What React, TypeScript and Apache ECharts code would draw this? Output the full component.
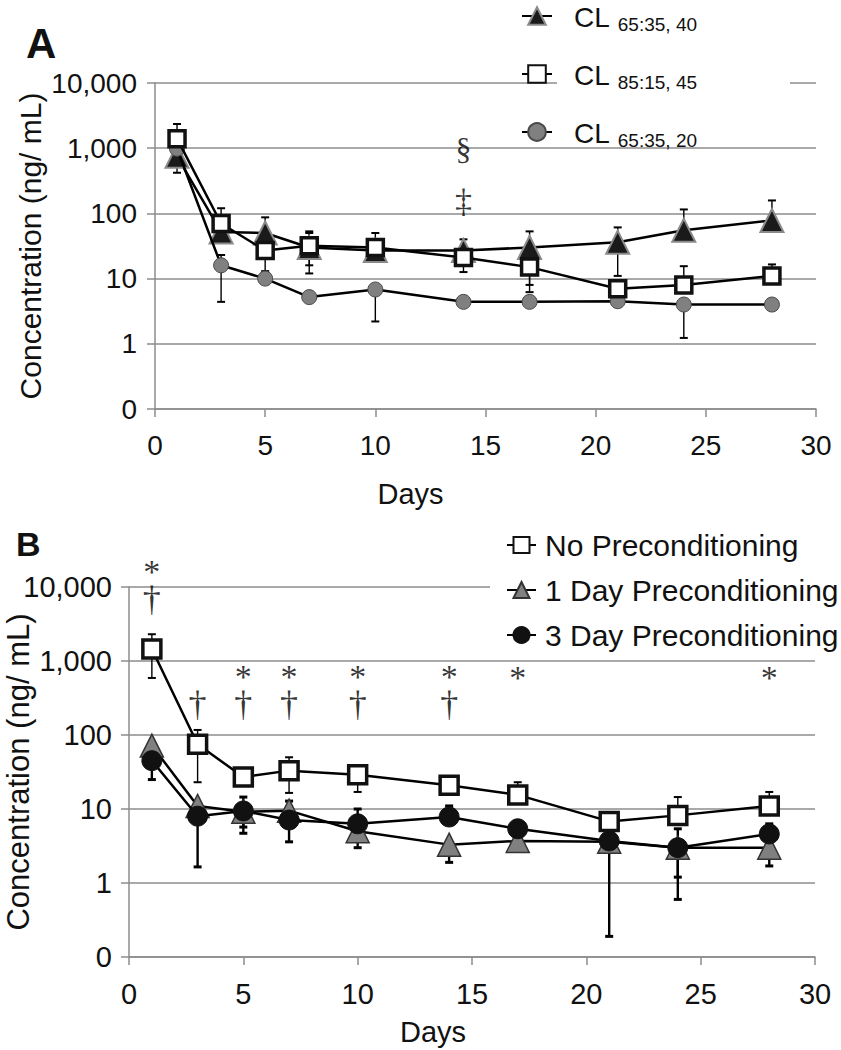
import React, { useEffect, useRef } from "react";
import * as echarts from "echarts";

const FONT = "'Liberation Sans', Arial, Helvetica, sans-serif";
const SERIF = "'Liberation Serif', 'Times New Roman', serif";

const days = [1, 3, 5, 7, 10, 14, 17, 21, 24, 28];

// ---- Panel A ----
const nameA1 = "CL 65:35, 40";
const nameA2 = "CL 85:15, 45";
const nameA3 = "CL 65:35, 20";
const a1Values = [750, 52, 50, 30, 27, 27, 30, 36, 55, 78];
const a1Hi = [null, null, 87, 50, null, 40, 53, 61, 115, 158];
const a1Lo = [420, null, null, 16, null, null, 8, 11, null, null];
const a2Values = [1400, 70, 27, 32, 30, 21, 15, 7, 8, 11];
const a2Hi = [2350, 120, null, 53, 50, null, null, null, 15.5, 16.5];
const a2Lo = [null, null, 13, 12, null, 12.6, 6.2, null, null, null];
const a3Values = [980, 16, 10, 5.2, 6.8, 4.4, 4.4, 4.5, 4.0, 4.0];
const a3Hi = [null, 23, null, null, null, null, null, null, null, null];
const a3Lo = [null, 4.4, null, null, 2.2, null, null, null, 1.23, null];
const annotA = [
  { day: 14, text: "§", y: 980 },
  { day: 14, text: "‡", y: 158 },
];

// ---- Panel B ----
const nameB1 = "No Preconditioning";
const nameB2 = "1 Day Preconditioning";
const nameB3 = "3 Day Preconditioning";
const b1Values = [1450, 75, 27, 33, 29, 21, 15.5, 6.8, 8.2, 11];
const b1Hi = [2300, 117, null, 50, 39, null, 23, null, 14.5, 17];
const b1Lo = [590, 23, null, 16.5, 17, null, null, null, null, null];
const b2Values = [72, 11, 9.2, 9.5, 5, 3.3, 3.7, 3.6, 3.0, 3.0];
const b2Hi = [null, null, 14.5, 12.8, null, null, null, null, null, null];
const b2Lo = [null, null, 5.7, null, 3.0, 1.9, null, null, 1.2, 1.7];
const b3Values = [45, 8, 9.4, 7.1, 6.3, 7.8, 5.4, 3.7, 3.0, 4.6];
const b3Hi = [null, null, null, null, 10, 11, null, null, 5.4, 6.3];
const b3Lo = [25, 1.65, 4.7, 3.6, null, null, null, 0.19, 0.6, null];
// significance marks: * vs 1 Day, † vs 3 Day (stacked where both apply)
const annotB = [
  { day: 1, text: "*\n†", y: 9700 },
  { day: 3, text: "†", y: 263 },
  { day: 5, text: "*\n†", y: 370 },
  { day: 7, text: "*\n†", y: 370 },
  { day: 10, text: "*\n†", y: 370 },
  { day: 14, text: "*\n†", y: 370 },
  { day: 17, text: "*", y: 600 },
  { day: 28, text: "*", y: 600 },
];

const xTicks = { min: 0, max: 30, interval: 5 };
const yRange = { min: 0.1, max: 10000 };

const MARK_STYLE: Record<string, string> = { "*": "s", "†": "d", "§": "sec", "‡": "dd" };

function pairs(vals: number[]) {
  return days.map((d, i) => [d, vals[i]]);
}

function errData(vals: number[], hi: (number | null)[], lo: (number | null)[]) {
  const out: number[][] = [];
  vals.forEach((v, i) => {
    if (hi[i] != null) out.push([days[i], v, hi[i] as number]);
    if (lo[i] != null) out.push([days[i], v, lo[i] as number]);
  });
  return out;
}

function errSeries(data: number[][], idx: number, width: number, capW: number) {
  return {
    type: "custom",
    xAxisIndex: idx,
    yAxisIndex: idx,
    z: 2,
    silent: true,
    encode: { x: 0, y: [1, 2] },
    data,
    renderItem: (_params: any, api: any) => {
      const p0 = api.coord([api.value(0), api.value(1)]);
      const p1 = api.coord([api.value(0), api.value(2)]);
      return {
        type: "group",
        children: [
          {
            type: "line",
            shape: { x1: p0[0], y1: p0[1], x2: p1[0], y2: p1[1] },
            style: { stroke: "#000", lineWidth: width },
          },
          {
            type: "line",
            shape: { x1: p1[0] - capW / 2, y1: p1[1], x2: p1[0] + capW / 2, y2: p1[1] },
            style: { stroke: "#000", lineWidth: width + 0.6 },
          },
        ],
      };
    },
  };
}

function annotSeries(list: { day: number; text: string; y: number }[], idx: number) {
  return {
    type: "scatter",
    xAxisIndex: idx,
    yAxisIndex: idx,
    symbolSize: 1,
    itemStyle: { color: "rgba(0,0,0,0)" },
    clip: false,
    silent: true,
    z: 6,
    label: {
      show: true,
      position: "inside",
      color: "#000",
      textBorderWidth: 0,
      textBorderColor: "transparent",
      formatter: (p: any) =>
        String(p.name)
          .split("\n")
          .map((t: string) => `{${MARK_STYLE[t] || "d"}|${t}}`)
          .join("\n"),
      rich: {
        s: { fontFamily: SERIF, fontSize: 34, lineHeight: 22, color: "#000" },
        d: { fontFamily: SERIF, fontSize: 36, lineHeight: 32, color: "#000" },
        sec: { fontFamily: SERIF, fontSize: 32, lineHeight: 30, color: "#000" },
        dd: { fontFamily: SERIF, fontSize: 34, lineHeight: 30, color: "#000" },
      },
    },
    data: list.map((a) => ({ name: a.text, value: [a.day, a.y] })),
  };
}

function lineSeries(name: string, vals: number[], idx: number, symbol: string, size: number, itemStyle: any, z: number) {
  return {
    type: "line",
    name,
    xAxisIndex: idx,
    yAxisIndex: idx,
    data: pairs(vals),
    symbol,
    symbolSize: size,
    showSymbol: true,
    lineStyle: { color: "#000", width: 2.5 },
    itemStyle,
    z,
    emphasis: { disabled: true },
  };
}

function xAxisCfg(idx: number, fontSize: number, margin: number, rightPad: number, nameGap: number) {
  return {
    type: "value",
    gridIndex: idx,
    ...xTicks,
    name: "Days",
    nameLocation: "middle",
    nameGap,
    nameMoveOverlap: false,
    nameTextStyle: { fontFamily: FONT, fontSize: 29, color: "#111", padding: [0, rightPad, 0, 0] },
    axisLine: { show: true, lineStyle: { color: "#8c8c8c", width: 1.5 } },
    axisTick: { show: true, length: 8, lineStyle: { color: "#8c8c8c", width: 1.5 } },
    axisLabel: { fontFamily: FONT, fontSize, color: "#111", margin },
    splitLine: { show: false },
  };
}

function yAxisCfg(idx: number, fontSize: number, margin: number, nameSize: number, nameGap: number) {
  return {
    type: "log",
    logBase: 10,
    gridIndex: idx,
    ...yRange,
    splitNumber: 5,
    name: "Concentration (ng/ mL)",
    nameLocation: "middle",
    nameGap,
    nameMoveOverlap: false,
    nameTextStyle: { fontFamily: FONT, fontSize: nameSize, color: "#111" },
    axisLine: { show: true, lineStyle: { color: "#8c8c8c", width: 1.5 } },
    axisTick: { show: true, length: 8, lineStyle: { color: "#8c8c8c", width: 1.5 } },
    axisLabel: {
      fontFamily: FONT,
      fontSize,
      color: "#111",
      margin,
      formatter: (v: number) => (v < 0.5 ? "0" : Math.round(v).toLocaleString("en-US")),
    },
    splitLine: { show: true, lineStyle: { color: "#8c8c8c", width: 1.5 } },
    minorTick: { show: false },
  };
}

export default function App() {
  const ref = useRef<HTMLDivElement>(null);
  useEffect(() => {
    if (!ref.current) return;
    const chart = echarts.init(ref.current, null, { renderer: "svg" });
    const option: any = {
      animation: false,
      backgroundColor: "#fff",
      title: [
        { text: "A", left: 21, top: 17, textStyle: { fontFamily: FONT, fontSize: 42, fontWeight: "bold", color: "#111" } },
        { text: "B", left: 11, top: 522, textStyle: { fontFamily: FONT, fontSize: 34, fontWeight: "bold", color: "#111" } },
      ],
      grid: [
        { left: 155, top: 83, width: 661, height: 326, containLabel: false, outerBoundsMode: "none" },
        { left: 129, top: 587, width: 686, height: 370, containLabel: false, outerBoundsMode: "none" },
      ],
      xAxis: [xAxisCfg(0, 28, 22, 150, 70), xAxisCfg(1, 29, 22, 78, 60)],
      yAxis: [yAxisCfg(0, 28, 18, 30, 110), yAxisCfg(1, 29, 17, 31, 95)],
      legend: [
        {
          data: [nameA1, nameA2, nameA3],
          orient: "vertical",
          left: 521,
          top: 3,
          padding: 0,
          itemWidth: 30,
          itemHeight: 22,
          itemGap: 27,
          selectedMode: false,
          formatter: (name: string) => {
            const parts = name.split(" ");
            return `{a|${parts[0]}}{b|${parts.slice(1).join(" ")}}`;
          },
          textStyle: {
            backgroundColor: "#fff",
            width: 216,
            padding: [0, 0, 0, 17],
            rich: {
              a: { fontFamily: FONT, fontSize: 28, lineHeight: 26, verticalAlign: "top", color: "#111" },
              b: { fontFamily: FONT, fontSize: 19, lineHeight: 20, verticalAlign: "top", padding: [12, 0, 0, 8], color: "#111" },
            },
          },
        },
        {
          data: [nameB1, nameB2, nameB3],
          orient: "vertical",
          left: 490,
          top: 525,
          padding: [4, 30, 4, 16],
          backgroundColor: "#fff",
          itemWidth: 29,
          itemHeight: 20,
          itemGap: 13,
          selectedMode: false,
          textStyle: { fontFamily: FONT, fontSize: 30, lineHeight: 32, color: "#111", padding: [0, 0, 0, 4] },
        },
      ],
      series: [
        errSeries(errData(a1Values, a1Hi, a1Lo), 0, 1.4, 8),
        errSeries(errData(a2Values, a2Hi, a2Lo), 0, 1.4, 8),
        errSeries(errData(a3Values, a3Hi, a3Lo), 0, 1.4, 8),
        lineSeries(nameA1, a1Values, 0, "triangle", 23, { color: "#1a1a1a", borderColor: "#8a8a8a", borderWidth: 2 }, 3),
        lineSeries(nameA3, a3Values, 0, "circle", 15, { color: "#808080", borderColor: "#4a4a4a", borderWidth: 1 }, 4),
        lineSeries(nameA2, a2Values, 0, "rect", 16, { color: "#fff", borderColor: "#111", borderWidth: 3.5 }, 5),
        annotSeries(annotA, 0),
        errSeries(errData(b1Values, b1Hi, b1Lo), 1, 1.4, 8),
        errSeries(errData(b2Values, b2Hi, b2Lo), 1, 2.4, 8),
        errSeries(errData(b3Values, b3Hi, b3Lo), 1, 2.4, 8),
        lineSeries(nameB1, b1Values, 1, "rect", 18, { color: "#fff", borderColor: "#111", borderWidth: 3.5 }, 5),
        lineSeries(nameB2, b2Values, 1, "triangle", 23, { color: "#808080", borderColor: "#333", borderWidth: 1.5 }, 3),
        lineSeries(nameB3, b3Values, 1, "circle", 20, { color: "#111", borderColor: "#111", borderWidth: 1 }, 4),
        annotSeries(annotB, 1),
      ],
    };
    chart.setOption(option);
    return () => chart.dispose();
  }, []);
  return (
    <div
      ref={ref}
      style={{ position: "absolute", left: 0, top: 0, width: 841, height: 1050, background: "#fff" }}
    />
  );
}
